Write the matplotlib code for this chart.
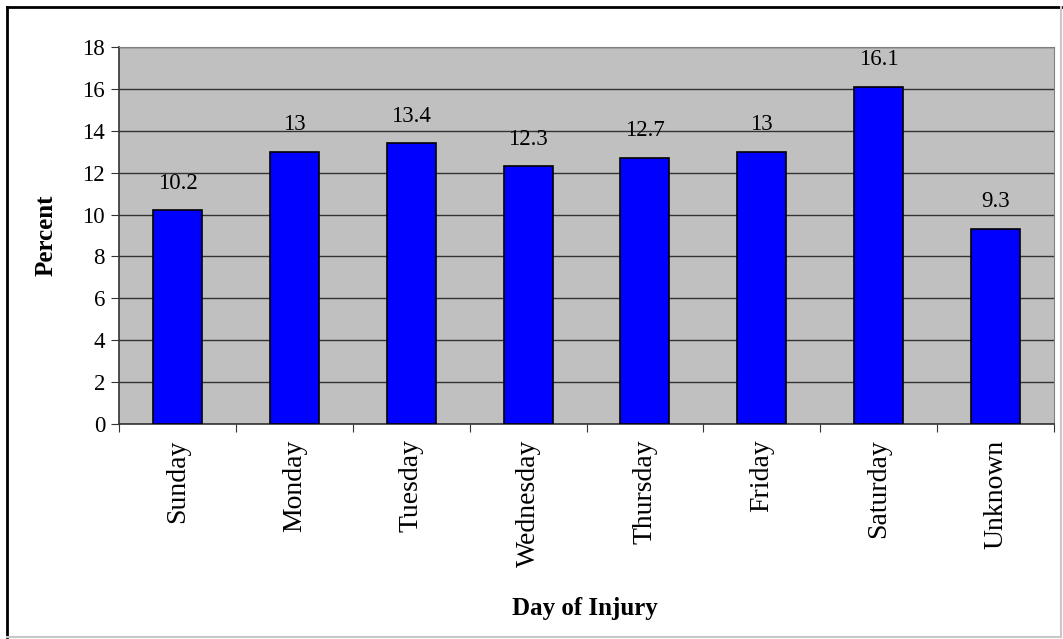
import matplotlib
matplotlib.use("Agg")
import matplotlib.pyplot as plt
from matplotlib.lines import Line2D

days = ["Sunday", "Monday", "Tuesday", "Wednesday", "Thursday", "Friday", "Saturday", "Unknown"]
percent = [10.2, 13, 13.4, 12.3, 12.7, 13, 16.1, 9.3]
value_labels = ["10.2", "13", "13.4", "12.3", "12.7", "13", "16.1", "9.3"]
yticks = [0, 2, 4, 6, 8, 10, 12, 14, 16, 18]

plt.rcParams['font.family'] = ['Liberation Serif', 'DejaVu Serif']

fig = plt.figure(figsize=(10.63, 6.39), dpi=100)
ax = fig.add_axes([119/1063, 1-424/639, (1054-119)/1063, (424-47)/639])
ax.set_facecolor('#C0C0C0')

x = list(range(len(days)))
ax.bar(x, percent, width=0.42, color='#0000FF', edgecolor='black', linewidth=1.2, zorder=3)
for xi, v, lab in zip(x, percent, value_labels):
    ax.text(xi, v + 0.8, lab, ha='center', va='bottom', fontsize=16.5)

ax.set_xlim(-0.5, len(days) - 0.5)
ax.set_ylim(0, 18)
ax.set_yticks(yticks)
ax.set_yticklabels([str(t) for t in yticks], fontsize=16.5)
ax.yaxis.grid(True, color='#333333', linewidth=1.0, zorder=0)
ax.set_axisbelow(True)

# x tick marks at category boundaries, labels centered
ax.set_xticks([i - 0.5 for i in range(len(days) + 1)])
ax.set_xticklabels([])
ax.set_xticks(x, minor=True)
ax.set_xticklabels(days, minor=True, rotation=90, fontsize=20)
ax.tick_params(axis='x', which='minor', length=0, pad=11)
ax.tick_params(axis='x', which='major', direction='out', length=6, color='#333333')
ax.tick_params(axis='y', direction='out', length=6, color='#333333', pad=4)

for s in ['top', 'right']:
    ax.spines[s].set_color('#808080')
for s in ['left', 'bottom']:
    ax.spines[s].set_color('#333333')
    ax.spines[s].set_linewidth(1.2)

fig.text(46/1063, 1-235/639, "Percent", rotation=90, ha='center', va='center', fontsize=18, fontweight='bold')
fig.text(585/1063, 1-608/639, "Day of Injury", ha='center', va='center', fontsize=18, fontweight='bold')

# figure border
fig.add_artist(Line2D([7/1063, 7/1063], [1-7/639, 1-637/639], transform=fig.transFigure, color='black', linewidth=2))
fig.add_artist(Line2D([7/1063, 1061/1063], [1-7/639, 1-7/639], transform=fig.transFigure, color='black', linewidth=2))
fig.add_artist(Line2D([7/1063, 1061/1063], [1-637/639, 1-637/639], transform=fig.transFigure, color='#C8C8C8', linewidth=1.5))
fig.add_artist(Line2D([1061/1063, 1061/1063], [1-7/639, 1-637/639], transform=fig.transFigure, color='#C8C8C8', linewidth=1.5))

fig.savefig("out.png", dpi=100)
